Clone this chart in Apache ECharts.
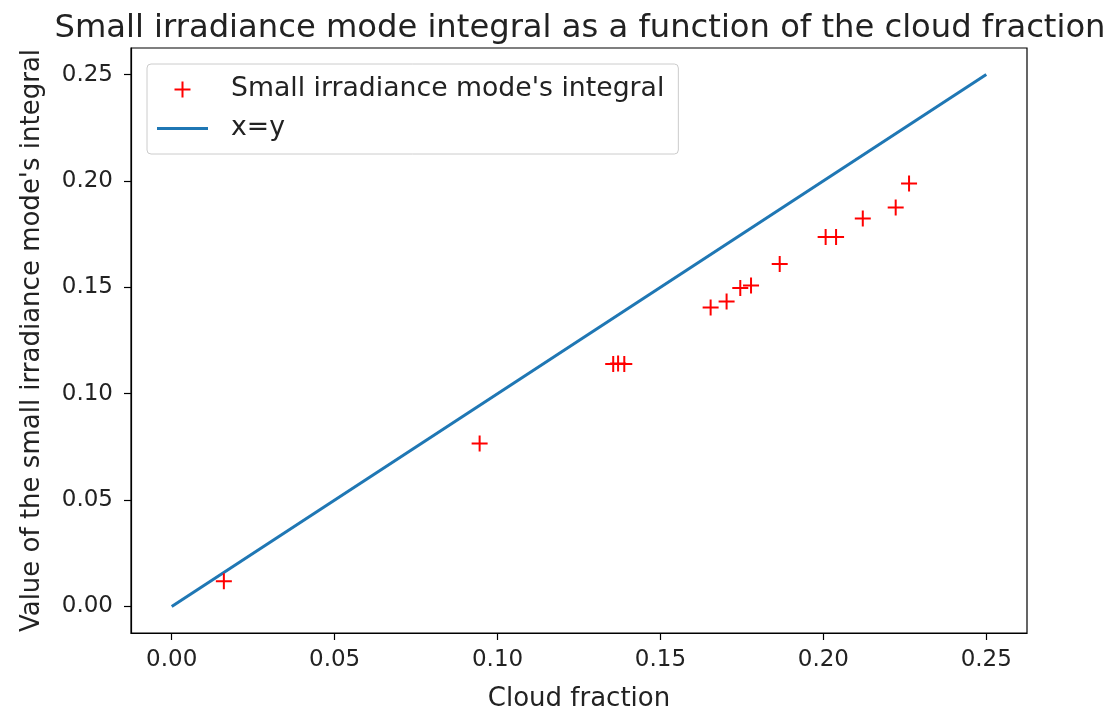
<!DOCTYPE html>
<html>
<head>
<meta charset="utf-8">
<script src="https://cdn.jsdelivr.net/npm/echarts@6/dist/echarts.min.js"></script>
<style>html,body{margin:0;padding:0;background:#fff}#c{width:1113px;height:718px}</style>
</head>
<body>
<div id="c"></div>
<script>
const cloudFraction = [0.0160, 0.0945, 0.1355, 0.1370, 0.1389, 0.1654, 0.1703, 0.1745, 0.1778, 0.1866, 0.2007, 0.2039, 0.2121, 0.2222, 0.2263];
const modeIntegral  = [0.0118, 0.0766, 0.1139, 0.1142, 0.1139, 0.1405, 0.1433, 0.1497, 0.1508, 0.1610, 0.1736, 0.1736, 0.1823, 0.1875, 0.1988];
const lineX = [0, 0.25];
const lineY = [0, 0.25];
const tickValues = [0, 0.05, 0.10, 0.15, 0.20, 0.25];

const FONT = 'DejaVu Sans';
const plus = 'path://M7,0 H9 V7 H16 V9 H9 V16 H7 V9 H0 V7 H7 Z';
const lineIcon = 'path://M0,0 H50 V3 H0 Z';

const chart = echarts.init(document.getElementById('c'), null, {renderer: 'canvas'});
const axisCommon = {
  type: 'value',
  min: -0.0125,
  max: 0.2625,
  axisLine: {show: true, onZero: false, lineStyle: {color: '#000', width: 1.2}},
  axisTick: {show: true, inside: false, length: 7, customValues: tickValues, lineStyle: {color: '#000', width: 1.2}},
  axisLabel: {customValues: tickValues, color: '#222', fontFamily: FONT, fontSize: 23, formatter: v => v.toFixed(2)},
  splitLine: {show: false},
  nameLocation: 'middle',
  nameTextStyle: {color: '#222', fontFamily: FONT, fontSize: 26}
};
chart.setOption({
  animation: false,
  title: {
    text: 'Small irradiance mode integral as a function of the cloud fraction',
    left: 575, top: 8, textAlign: 'center',
    textStyle: {fontFamily: FONT, fontWeight: 'normal', fontSize: 32.2, color: '#222'}
  },
  grid: {left: 131, right: 86, top: 48, bottom: 85, show: true, borderColor: '#000', borderWidth: 1.2, backgroundColor: '#fff'},
  legend: {
    left: 147, top: 64, orient: 'vertical',
    backgroundColor: '#fff', borderColor: '#ccc', borderWidth: 1, borderRadius: 4,
    padding: [12, 14, 12, 10], itemGap: 12, itemWidth: 51, itemHeight: 16,
    textStyle: {fontFamily: FONT, fontSize: 26.7, color: '#222', padding: [0, 0, 0, 18]},
    data: [
      {name: "Small irradiance mode's integral", icon: plus, itemStyle: {color: '#ff0000'}},
      {name: 'x=y', icon: lineIcon, itemStyle: {color: '#1f77b4'}}
    ]
  },
  xAxis: Object.assign({}, axisCommon, {name: 'Cloud fraction', nameGap: 53,
    axisLabel: Object.assign({}, axisCommon.axisLabel, {margin: 16})}),
  yAxis: Object.assign({}, axisCommon, {name: "Value of the small irradiance mode's integral", nameGap: 86,
    axisLabel: Object.assign({}, axisCommon.axisLabel, {margin: 18})}),
  series: [
    {
      name: "Small irradiance mode's integral",
      type: 'scatter',
      symbol: plus,
      symbolSize: 16,
      symbolKeepAspect: true,
      itemStyle: {color: '#ff0000', opacity: 1},
      data: cloudFraction.map((x, i) => [x, modeIntegral[i]]),
      z: 3
    },
    {
      name: 'x=y',
      type: 'line',
      symbol: 'none',
      itemStyle: {color: '#1f77b4'},
      lineStyle: {color: '#1f77b4', width: 3},
      data: lineX.map((x, i) => [x, lineY[i]]),
      z: 2
    }
  ]
});
</script>
</body>
</html>
